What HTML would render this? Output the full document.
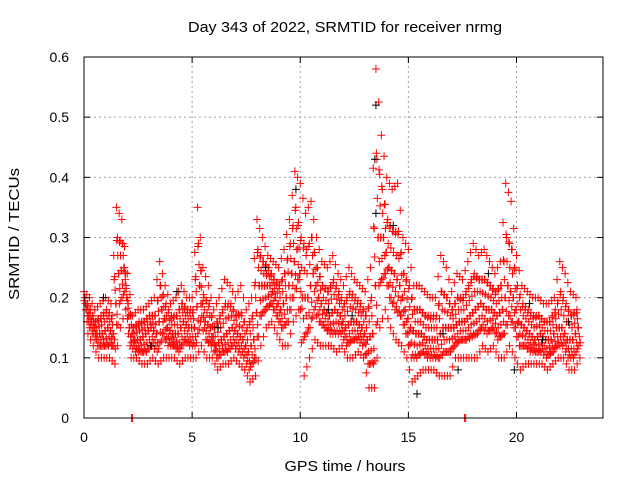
<!DOCTYPE html>
<html><head><meta charset="utf-8"><style>
body{margin:0;background:#fff}
svg{display:block;font-family:"Liberation Sans",sans-serif}
</style></head><body>
<svg id="chart" width="640" height="480">
<text x="345" y="32" font-size="15" textLength="314" lengthAdjust="spacingAndGlyphs" text-anchor="middle">Day 343 of 2022, SRMTID for receiver nrmg</text>
<text x="345" y="471" font-size="15" textLength="121" lengthAdjust="spacingAndGlyphs" text-anchor="middle">GPS time / hours</text>
<text transform="translate(19,234) rotate(-90)" font-size="15" textLength="132" lengthAdjust="spacingAndGlyphs" text-anchor="middle">SRMTID / TECUs</text>
<g id="grid"></g>
<g id="marks"></g>
<rect x="84" y="57" width="519" height="361" fill="none" stroke="#000" stroke-width="1"/>
<g id="ticks"></g>
</svg>
<script>
const xTicks=[0,5,10,15,20];
const yTicks=[0,0.1,0.2,0.3,0.4,0.5,0.6];
const yTickLabels=["0","0.1","0.2","0.3","0.4","0.5","0.6"];
const stepHours=0.25;
const redHi=[0.21,0.20,0.18,0.19,0.20,0.19,0.35,0.33,0.24,0.17,0.18,0.18,0.19,0.20,0.26,0.22,0.19,0.20,0.22,0.20,0.20,0.35,0.25,0.22,0.18,0.20,0.23,0.22,0.20,0.22,0.18,0.20,0.33,0.30,0.27,0.26,0.25,0.28,0.33,0.41,0.39,0.34,0.36,0.30,0.26,0.25,0.27,0.24,0.22,0.25,0.23,0.22,0.21,0.25,0.58,0.47,0.40,0.38,0.39,0.30,0.28,0.22,0.22,0.21,0.20,0.20,0.27,0.25,0.21,0.24,0.23,0.26,0.29,0.27,0.28,0.26,0.24,0.26,0.39,0.36,0.27,0.22,0.21,0.20,0.20,0.19,0.19,0.20,0.26,0.24,0.21,0.20];
const redQ3=[0.20,0.18,0.16,0.17,0.18,0.17,0.30,0.29,0.19,0.15,0.16,0.16,0.17,0.17,0.22,0.19,0.17,0.17,0.19,0.18,0.18,0.29,0.20,0.19,0.15,0.17,0.19,0.19,0.17,0.17,0.15,0.17,0.28,0.26,0.25,0.23,0.22,0.24,0.29,0.35,0.30,0.28,0.30,0.25,0.22,0.21,0.23,0.21,0.19,0.21,0.20,0.19,0.17,0.20,0.43,0.38,0.33,0.31,0.31,0.24,0.22,0.18,0.18,0.17,0.17,0.17,0.21,0.20,0.18,0.20,0.20,0.22,0.24,0.23,0.23,0.22,0.21,0.22,0.30,0.28,0.22,0.19,0.18,0.17,0.17,0.16,0.16,0.18,0.21,0.19,0.17,0.18];
const redMid=[0.18,0.16,0.14,0.14,0.15,0.14,0.24,0.25,0.15,0.13,0.13,0.14,0.15,0.14,0.18,0.15,0.14,0.14,0.16,0.15,0.15,0.22,0.16,0.15,0.12,0.13,0.14,0.15,0.14,0.13,0.11,0.13,0.22,0.22,0.22,0.20,0.18,0.20,0.24,0.28,0.20,0.20,0.24,0.20,0.18,0.17,0.18,0.17,0.15,0.16,0.16,0.15,0.13,0.14,0.30,0.30,0.25,0.24,0.22,0.18,0.15,0.14,0.14,0.13,0.13,0.13,0.15,0.15,0.15,0.16,0.16,0.17,0.18,0.19,0.18,0.18,0.17,0.18,0.22,0.20,0.16,0.15,0.14,0.13,0.14,0.13,0.13,0.15,0.15,0.13,0.13,0.15];
const redQ1=[0.16,0.14,0.12,0.12,0.12,0.12,0.19,0.21,0.12,0.11,0.11,0.11,0.12,0.11,0.14,0.12,0.12,0.11,0.13,0.12,0.12,0.16,0.13,0.12,0.10,0.11,0.11,0.12,0.11,0.10,0.08,0.10,0.17,0.18,0.19,0.17,0.15,0.16,0.20,0.23,0.13,0.15,0.18,0.16,0.15,0.14,0.14,0.14,0.12,0.13,0.13,0.12,0.09,0.09,0.22,0.24,0.20,0.18,0.17,0.14,0.10,0.10,0.11,0.10,0.10,0.10,0.11,0.11,0.12,0.13,0.13,0.14,0.14,0.15,0.14,0.15,0.13,0.14,0.17,0.15,0.12,0.12,0.11,0.11,0.11,0.10,0.11,0.12,0.12,0.10,0.10,0.12];
const redLo=[0.14,0.12,0.10,0.10,0.10,0.09,0.15,0.18,0.10,0.10,0.09,0.09,0.10,0.09,0.10,0.10,0.10,0.09,0.10,0.10,0.10,0.12,0.10,0.10,0.08,0.09,0.09,0.10,0.09,0.08,0.06,0.07,0.12,0.15,0.16,0.14,0.12,0.12,0.16,0.18,0.07,0.10,0.13,0.12,0.12,0.12,0.11,0.12,0.10,0.10,0.11,0.10,0.05,0.05,0.15,0.18,0.15,0.13,0.12,0.10,0.06,0.07,0.08,0.08,0.08,0.07,0.07,0.07,0.10,0.10,0.10,0.10,0.10,0.12,0.11,0.12,0.10,0.10,0.12,0.10,0.08,0.09,0.09,0.09,0.09,0.08,0.09,0.10,0.10,0.08,0.08,0.10];
const redZeroTimes=[2.2,17.6];
const blackTimes=[13.5,13.45,13.5,15.4,19.9,17.3,9.8,4.3,0.9,6.2,11.3,18.7,21.2,12.4,3.1,8.4,14.3,16.6,20.6,22.4];
const blackValues=[0.52,0.43,0.34,0.04,0.08,0.08,0.38,0.21,0.20,0.15,0.18,0.24,0.13,0.17,0.12,0.25,0.32,0.14,0.19,0.16];

const X0=84,X1=603,Y0=418,Y1=57,XMAX=24,YMAX=0.6;
const xs=v=>X0+(X1-X0)*v/XMAX;
const ys=v=>Y0-(Y0-Y1)*v/YMAX;
const NS="http://www.w3.org/2000/svg";
function mk(tag,attrs,parent){const e=document.createElementNS(NS,tag);for(const k in attrs)e.setAttribute(k,attrs[k]);parent.appendChild(e);return e;}
const grid=document.getElementById('grid'),ticks=document.getElementById('ticks'),marks=document.getElementById('marks');
xTicks.forEach(t=>{
  const x=xs(t);
  if(t>0){const g=mk('line',{x1:x,x2:x,y1:Y0,y2:Y1,stroke:'#a0a0a0','stroke-dasharray':'2,3'},grid);
  
  }
  const l=mk('line',{x1:x,x2:x,y1:Y0,y2:Y0-6,stroke:'#000'},ticks);
  
  
  const l2=mk('line',{x1:x,x2:x,y1:Y1,y2:Y1+6,stroke:'#000'},ticks);
  
  
  const tx=mk('text',{x:x,y:Y0+24,'font-size':14,'text-anchor':'middle'},ticks);tx.textContent=String(t);
  
  
});
yTicks.forEach((t,i)=>{
  const y=ys(t);
  if(t>0&&t<YMAX){const g=mk('line',{x1:X0,x2:X1,y1:y,y2:y,stroke:'#a0a0a0','stroke-dasharray':'2,3'},grid);
  
  }
  const l=mk('line',{x1:X0,x2:X0+6,y1:y,y2:y,stroke:'#000'},ticks);
  
  
  const l2=mk('line',{x1:X1,x2:X1-6,y1:y,y2:y,stroke:'#000'},ticks);
  
  
  const tx=mk('text',{x:X0-15,y:y+5,'font-size':14,'text-anchor':'end'},ticks);tx.textContent=yTickLabels[i];
  
  
});
function plus(t,v,color,name){
  const x=xs(t),y=ys(v);
  const p=mk('path',{d:`M${x-4},${y}h8M${x},${y-4}v8`,stroke:color,'stroke-width':1,fill:'none'},marks);
  
  
}
const redSets=[redHi,redQ3,redMid,redQ1,redLo];
redSets.forEach((arr,k)=>{
  arr.forEach((v,i)=>{
    const t=i*stepHours+k*0.045;
    plus(t,v,'#ff0000','red-point');
    plus(t+0.02,(v+redMid[i])/2,'#ff0000','red-point');
    if(i+1<arr.length){
      plus(t+0.125,(v+arr[i+1])/2,'#ff0000','red-point');
      plus(t+0.145,(v+arr[i+1]+redMid[i]+redMid[i+1])/4,'#ff0000','red-point');
    }
  });
});
blackTimes.forEach((t,i)=>plus(t,blackValues[i],'#000','black-point'));
redZeroTimes.forEach(t=>{plus(t,0,'#ff0000','red-zero-point');plus(t+0.05,0,'#ff0000','red-zero-point');});
</script>
</body></html>
